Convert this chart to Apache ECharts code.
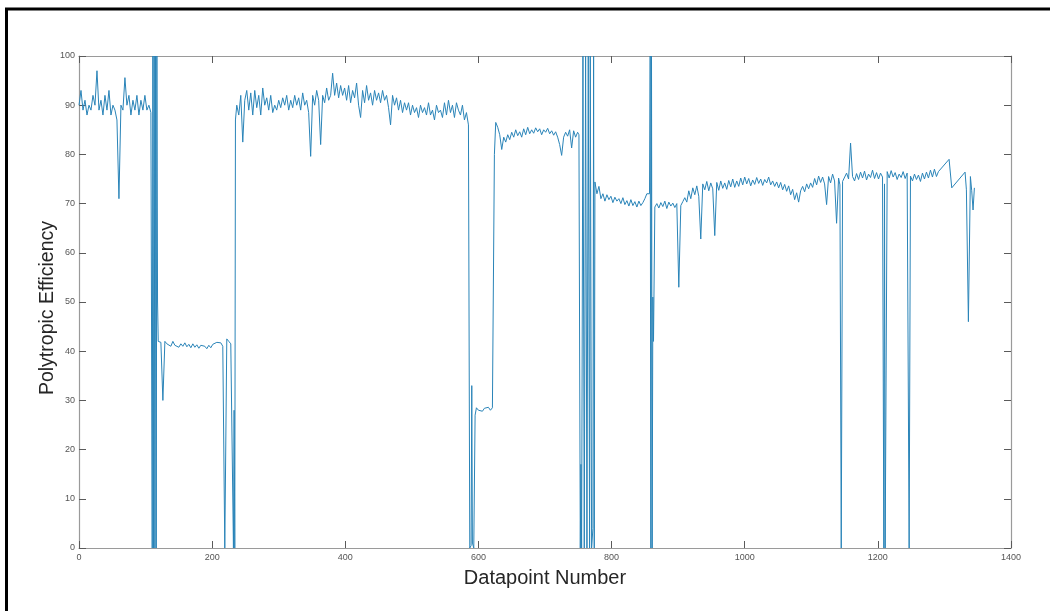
<!DOCTYPE html>
<html><head><meta charset="utf-8">
<script src="https://cdn.jsdelivr.net/npm/echarts/dist/echarts.min.js"></script>
<style>html,body{margin:0;padding:0;background:#fff}#c{width:1050px;height:611px}</style>
</head><body><div id="c"></div>
<script>
// ---- data (Datapoint Number vs Polytropic Efficiency) ----
const STEP = 3;
const xTicks = [0, 200, 400, 600, 800, 1000, 1200, 1400];
const yTicks = [0, 10, 20, 30, 40, 50, 60, 70, 80, 90, 100];

const seg1Start = 0;
const seg1 = [90,93,89,91,88,90,89,92,90,97,89,91,88,92,89,93,88,90,89,87,71,90,89,95.6,90,92,88,91,89,92,88,91,89,92,89,90,88.5];
const spikes1 = [[110,0],[111,100],[112,0],[113,100],[114,0],[115,100],[116,0],[117,100],[118,50],[119,42]];

const seg2Start = 120;
const seg2 = [42,41.8,30,42,41.5,41.8,41,42,41.2,41.6,40.8,41.5,41,41.7,40.9,41.4,40.7,41.5,40.8,41.3,40.6,41.2,40.8,41,40.5,41.2,40.7,41.4,41.6,41.8,41.5,41.7,41];
const spikes2 = [[219,0],[222,42.5],[225,42],[228,41.5],[231,41.2],[232,0],[233,28],[234,0],[235,87]];

const seg3Start = 237;
const seg3 = [90,88,92,82.5,91,93,89,92.5,88,93,89.5,92,88,93.5,90,91.5,89,92,88.5,90,89,91,89.5,91.5,90,92,89,91,89.5,92,90,91.5,89,92.5,90,91,88.5,79.6,92,90,93,91,82,92,90.5,93.5,91,92,96.5,92,94.5,91.5,94,92,93.5,91,94,90.5,93,91.5,94.5,90,87.5,93,90.5,94,91,92.5,90,93,91,92.5,90.5,93,91,92,89.5,86,92,90,91.5,89,91,88.5,90.5,89,90.5,88,90,88.5,89.5,87.5,90,88.5,89.5,88,90.5,88,89,87,90,88.5,89,87.5,90.5,88,91,88.5,90,87.5,90.5,89,88,90,87,88.5,86];
const spikes3 = [[587,0],[589,0.5],[590,33],[591,1],[593,0],[595,27]];

const seg4Start = 597;
const seg4 = [28.5,28,28.3,27.8,28.4,28.2,28.6,28,28.5];
const spikes4 = [[624,80]];

const seg5Start = 626;
const seg5 = [86.5,85.5,84,81,83.5,82.5,84,83,84.5,83.5,85,83.8,84.6,83.5,85.2,84,85.5,84.2,85,84.3,85.4,84.6,85.2,84,85,84.5,85.3,84.2,84.8,83.9,84.6,83.5,82,79.8,83.5,84.5,83.7,85,81.3,84.8,83.5,84.5];
const spikes5 = [[751,84],[753,0],[754,17],[755,0],[757,100],[759,0],[761,100],[763,0],[765,100],[767,0],[768,100],[770,0],[772,4],[773,100],[774,0]];

const seg6Start = 775;
const seg6 = [74.4,72,73.5,71,72,70.5,71.8,70.8,71.5,70.2,71.3,70.5,71,70,71.2,69.8,70.6,69.5,70.8,69.6,70.4,69.3,70.5,69.6,70.2,71,72];
const spikes6 = [[857,72],[858,100],[859,0],[860,100],[861,0],[862,51],[863,42]];

const seg7Start = 865;
const seg7 = [69.3,70,69.1,70.2,69.4,70.5,69,70.3,69.5,70.1,69.2,70,53,69.6,70.4,71.2,70.3,72.6,71,73.2,71.8,73.6,71.5,62.8,74,72.8,74.5,72.6,74.2,73,63.5,74.3,72.7,74.6,73.1,74.2,72.9,74.7,73.4,75,73.3,74.6,73.5,75.2,73.8,75.4,74,75.1,73.6,74.8,73.9,75.3,74.1,75,73.7,74.9,74.2,75.4,73.8,74.6,73.5,74.4,73.2,74.3,72.8,73.9,72.5,73.6,71.8,72.9,70.8,72.2,70.3,72.6,73.5,72.4,74,73,74.2,73.3,75.1,73.8,75.6,74.3,75.4,74,69.8,75.5,74.2,76,74.6,66,75.2];
const spikes7 = [[1143,73.8],[1145,0],[1147,74.5]];

const seg8Start = 1150;
const seg8 = [74.8,76.2,75,82.3,75.5,74.6,76.1,74.9,76.4,75.2,76.6,74.8,76,75.3,76.8,75.1,76.3,75,76.2,75.4];
const spikes8 = [[1209,0],[1210,74],[1211,0]];

const seg9Start = 1214;
const seg9 = [76.5,75.2,76.7,75.4,76.3,74.9,76,75.3,76.5,75.1,76.2];
const spikes9 = [[1247,0],[1249,75.6]];

const seg10Start = 1252;
const seg10 = [74.6,76,74.9,75.8,74.5,76.2,75,76.4,75.2,76.8,75.4,77,75.5,76.5];
const tail = [[1294,76.9],[1307,79],[1311,73.2],[1331,76.4],[1333,72.8],[1336,46],[1339,75.5],[1341,72.6],[1343,68.7],[1345,73.2]];

// ---- build series data ----
function seg(start, vals) { return vals.map((v, i) => [start + i * STEP, v]); }
const data = [].concat(
  seg(seg1Start, seg1), spikes1,
  seg(seg2Start, seg2), spikes2,
  seg(seg3Start, seg3), spikes3,
  seg(seg4Start, seg4), spikes4,
  seg(seg5Start, seg5), spikes5,
  seg(seg6Start, seg6), spikes6,
  seg(seg7Start, seg7), spikes7,
  seg(seg8Start, seg8), spikes8,
  seg(seg9Start, seg9), spikes9,
  seg(seg10Start, seg10), tail
);

const FONT = '"Liberation Sans", Arial, Helvetica, sans-serif';
const AXIS = '#9a9a9a', TICK = '#5a5a5a', LABEL = '#555';

const chart = echarts.init(document.getElementById('c'), null, {renderer: 'canvas'});
const baseX = {
  type: 'value', min: xTicks[0], max: xTicks[xTicks.length - 1], interval: xTicks[1] - xTicks[0],
  axisLine: {show: true, onZero: false, lineStyle: {color: AXIS, width: 1.2}},
  axisTick: {show: true, inside: true, length: 7, lineStyle: {color: TICK}},
  splitLine: {show: false}
};
const baseY = {
  type: 'value', min: yTicks[0], max: yTicks[yTicks.length - 1], interval: yTicks[1] - yTicks[0],
  axisLine: {show: true, onZero: false, lineStyle: {color: AXIS, width: 1.2}},
  axisTick: {show: true, inside: true, length: 7, lineStyle: {color: TICK}},
  splitLine: {show: false}
};
chart.setOption({
  animation: false,
  backgroundColor: '#fff',
  grid: {left: 79, top: 56, right: 39, bottom: 63, containLabel: false},
  xAxis: [
    Object.assign({}, baseX, {
      position: 'bottom',
      name: 'Datapoint Number', nameLocation: 'middle', nameGap: 20,
      nameTextStyle: {fontFamily: FONT, fontSize: 20, color: '#262626'},
      axisLabel: {fontFamily: FONT, fontSize: 9, color: LABEL, margin: 5, formatter: v => String(v)}
    }),
    Object.assign({}, baseX, {position: 'top', axisLabel: {show: false}})
  ],
  yAxis: [
    Object.assign({}, baseY, {
      position: 'left',
      name: 'Polytropic Efficiency', nameLocation: 'middle', nameGap: 21, nameMoveOverlap: false,
      nameTextStyle: {fontFamily: FONT, fontSize: 19.5, color: '#262626', padding: [0, 12, 0, 0]},
      axisLabel: {fontFamily: FONT, fontSize: 9, color: LABEL, margin: 4, formatter: v => String(v)}
    }),
    Object.assign({}, baseY, {position: 'right', axisLabel: {show: false}})
  ],
  series: [{
    type: 'line', xAxisIndex: 0, yAxisIndex: 0, data: data,
    showSymbol: false, symbol: 'none', clip: true,
    lineStyle: {color: '#2a84b8', width: 1}
  }],
  graphic: [
    {type: 'line', shape: {x1: 6.5, y1: 8, x2: 6.5, y2: 611}, style: {stroke: '#000', lineWidth: 3}},
    {type: 'line', shape: {x1: 5, y1: 9, x2: 1050, y2: 9}, style: {stroke: '#000', lineWidth: 3}}
  ]
});
</script>
</body></html>
